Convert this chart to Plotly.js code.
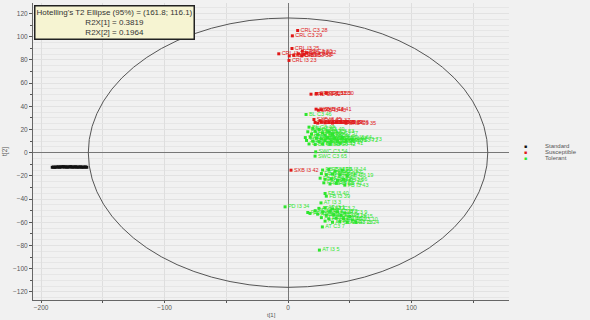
<!DOCTYPE html>
<html><head><meta charset="utf-8">
<script src="https://cdn.plot.ly/plotly-3.0.1.min.js"></script>
<style>html,body{margin:0;padding:0;background:#f1f1f1;}#chart{width:590px;height:320px;}</style>
</head><body><div id="chart"></div>
<script>
// Hotelling T2 ellipse semi-axes and explained variance
const ellipseA = 161.8, ellipseB = 116.1;
const r2x1 = 0.3819, r2x2 = 0.1964;

// Standard samples (t[1], t[2])
const stdX = [-191,-190,-189,-188,-187,-186,-185,-184,-183,-182,-181,-180,-179,-178,-177,-176,-175,-174,-173,-172,-171,-170,-169,-168,-167,-166,-165,-164,-163];
const stdY = [-12.6,-12.4,-12.7,-12.3,-12.5,-12.2,-12.6,-12.1,-12.4,-12.0,-12.5,-12.1,-12.6,-12.2,-12.4,-12.0,-12.6,-12.2,-12.5,-12.1,-12.6,-12.3,-12.5,-12.2,-12.6,-12.4,-12.5,-12.3,-12.6];

// Susceptible samples
const susX = [7.8,3.5,3.2,-7.5,1.0,11.6,8.4,12.7,11.1,0.8,4.6,15.0,
  18.6,23.0,27.0,31.0,22.7,24.6,27.0,21.0,21.9,24.0,27.0,30.0,33.0,36.0,39.0,26.0,43.0,47.0,2.4];
const susY = [105.3,100.7,89.8,85.2,83.4,87.5,85.2,84.7,83.4,79.5,83.9,86.0,
  50.4,51.0,50.7,51.3,37.5,36.6,37.0,28.6,26.0,25.5,26.3,25.7,26.0,25.5,26.2,27.5,26.0,25.4,-15.1];
const susLab = ["CRL C3 28","CRL C3 29","CRL I3 25","CRL I3 24","CRL I3 27","CRL C3 30","CRL C3 31","CRL C3 32","CRL C3 33","CRL I3 23","CRL I3 26","CRL C3 22",
  "CRL C3 52","CRL C3 51","CRL C3 53","CRL I3 50","SXB I3 44","SXB I3 43","SXB C3 41","SXB I3 45","SXB I3 46","SXB C3 47","SXB I3 48","SXB C3 49","SXB I3 40","SXB C3 39","SXB I3 38","SXB C3 37","SXB I3 36","SXB C3 35","SXB I3 42"];

// Tolerant samples
const tolX = [14.6,
  17,20,25,16,22,28,33,19,24,30,36,14,18,23,27,32,38,44,15,20,25,30,35,40,47,52,17,22,28,34,42,
  22.4,21.9,
  28,33,38,44,27,31,36,42,48,26,30,35,40,45,29,34,39,46,
  30,31,26.7,-2.4,
  25,30,36,22,28,34,40,46,24,31,37,43,50,27,33,39,45,52,30,36,42,48,55,16,17.8,
  27.8,25.4];
const tolY = [32.9,
  22,21,20,18,18.5,17,18,16,15.5,15,16,13,13.5,12.5,12,13,12.5,13,10.5,10,9.5,10.5,9.7,10,10.5,11,7.5,7,7.5,7.2,8,
  0.7,-3,
  -15,-14.5,-16,-15,-18,-19,-18.5,-19,-20,-22,-23,-22.5,-24,-23,-26,-27,-26.5,-28,
  -35.2,-37.5,-43.3,-46.7,
  -48,-47.5,-48.5,-50,-51,-50.5,-51,-52,-53,-54,-53.5,-54,-55,-56,-57,-56.5,-57,-58,-59,-60,-59.5,-60,-60,-51.6,-52.4,
  -64,-84];
const tolLab = ["BL C3 46",
  "BL C3 47","BL I3 48","BL C3 49","BL I3 50","BL C3 51","BL I3 52","BL C3 53","BL I3 54","BL C3 55","BL I3 56","BL C3 57","SWC I3 58","SWC C3 59","SWC I3 60","SWC C3 61","SWC I3 62","SWC C3 63","SWC I3 64","SWC C3 66","SWC I3 67","SWC C3 68","SWC I3 69","SWC C3 70","SWC I3 71","SWC C3 72","SWC I3 73","BL I3 44","BL C3 45","BL I3 43","BL C3 42","BL I3 41",
  "SWC C3 54","SWC C3 65",
  "FB C3 11","FB I3 12","FB C3 13","FB I3 14","FB C3 15","FB I3 16","FB C3 17","FB I3 18","FB C3 19","FB I3 20","FB C3 21","FB I3 22","FB C3 35","FB I3 36","FB C3 37","FB I3 38","FB C3 41","FB I3 43",
  "FB I3 40","FB I3 39","AT I3 3","PD I3 34",
  "AT C3 37","AT I3 1","AT C3 2","PD I3 31","AT I3 4","AT C3 6","AT I3 8","AT C3 9","AT I3 11","AT C3 12","AT I3 13","AT C3 14","AT I3 15","AT C3 16","AT I3 17","AT C3 18","AT I3 19","AT C3 10","AT I3 20","AT C3 21","AT I3 22","AT C3 23","AT I3 24","PD I3 32","PD C3 33",
  "AT C3 7","AT I3 5"];

const colStd = '#111111', colSus = '#e01818', colTol = '#2ee62e';
const labelFont = {family:'Liberation Sans, Arial, sans-serif', size:5.5};

const traces = [
  {x:stdX, y:stdY, mode:'markers', type:'scatter', name:'Standard',
   marker:{symbol:'square', size:3, color:colStd}, hoverinfo:'skip'},
  {x:susX, y:susY, text:susLab, mode:'markers+text', textposition:'middle right', type:'scatter', name:'Susceptible',
   marker:{symbol:'square', size:3, color:colSus}, textfont:Object.assign({color:colSus}, labelFont), hoverinfo:'skip'},
  {x:tolX, y:tolY, text:tolLab, mode:'markers+text', textposition:'middle right', type:'scatter', name:'Tolerant',
   marker:{symbol:'square', size:3, color:colTol}, textfont:Object.assign({color:colTol}, labelFont), hoverinfo:'skip'},
  {x:[], y:[], yaxis:'y2', type:'scatter', showlegend:false}
];

const tickFont = {family:'Liberation Sans, Arial, sans-serif', size:6.5, color:'#555'};
const yRange = [-127, 129];

const legendNames = ['Standard','Susceptible','Tolerant'];
const legendCols = [colStd, colSus, colTol];
const ann = [];
legendNames.forEach((n,i)=>{
  ann.push({xref:'paper', yref:'paper', x:1.035, y:1-(146+6*i-3)/297, xanchor:'center', yanchor:'middle',
    text:'■', showarrow:false, font:{size:5, color:legendCols[i]}});
  ann.push({xref:'paper', yref:'paper', x:1.072, y:1-(146+6*i-3)/297, xanchor:'left', yanchor:'middle',
    text:n, showarrow:false, font:{family:'Liberation Sans, Arial, sans-serif', size:6, color:'#555'}});
});
ann.push({xref:'paper', yref:'paper', x:0.003, y:0.994, xanchor:'left', yanchor:'top', align:'center',
  text:"Hotelling's T2 Ellipse (95%) = (" + ellipseA + "; " + ellipseB + ")<br>R2X[1] = " + r2x1 + "<br>R2X[2] = " + r2x2,
  showarrow:false, bgcolor:'#f6f4d2', bordercolor:'#222', borderwidth:1.5, borderpad:1,
  font:{family:'Liberation Sans, Arial, sans-serif', size:8, color:'#333'}});
ann.push({xref:'paper', yref:'paper', x:0.5, y:-0.052, xanchor:'center', yanchor:'middle', text:'t[1]', showarrow:false,
  font:{family:'Liberation Sans, Arial, sans-serif', size:6, color:'#555'}});
ann.push({xref:'paper', yref:'paper', x:-0.06, y:0.5, xanchor:'center', yanchor:'middle', text:'t[2]', textangle:-90, showarrow:false,
  font:{family:'Liberation Sans, Arial, sans-serif', size:6.5, color:'#555'}});

const layout = {
  width:590, height:320,
  margin:{l:33, r:81, t:3, b:20},
  paper_bgcolor:'#f1f1f1', plot_bgcolor:'#f1f1f1',
  showlegend:false,
  xaxis:{range:[-206.6,179], dtick:100, tick0:0, ticks:'outside', ticklen:2, tickcolor:'#555',
    showline:true, linecolor:'#666', linewidth:1, showgrid:true, gridcolor:'#dedede', gridwidth:1,
    zeroline:true, zerolinecolor:'#777', zerolinewidth:1, tickfont:tickFont, ticklabelstandoff:-1,
    minor:{dtick:50, ticks:'outside', ticklen:2, tickcolor:'#555', showgrid:true, gridcolor:'#dedede'}},
  yaxis:{range:yRange, dtick:20, tick0:0, ticks:'outside', ticklen:3, tickcolor:'#555',
    showline:true, linecolor:'#666', linewidth:1, showgrid:true, gridcolor:'#e2e2e2',
    zeroline:true, zerolinecolor:'#777', zerolinewidth:1, tickfont:tickFont,
    minor:{dtick:5, ticks:'', showgrid:true, gridcolor:'#e6e6e6'}},
  yaxis2:{range:yRange, overlaying:'y', side:'left', dtick:10, tick0:0, ticks:'outside', ticklen:2, tickcolor:'#555',
    showticklabels:false, showgrid:false, zeroline:false, showline:false},
  shapes:[{type:'circle', xref:'x', yref:'y', x0:-ellipseA, x1:ellipseA, y0:-ellipseB, y1:ellipseB,
    line:{color:'#555', width:1}, layer:'above'}],
  annotations:ann
};
Plotly.newPlot('chart', traces, layout, {displayModeBar:false, staticPlot:true});
</script></body></html>
